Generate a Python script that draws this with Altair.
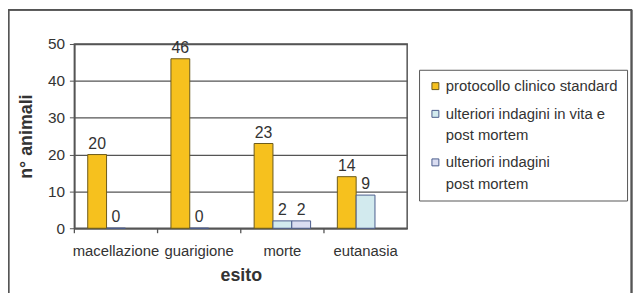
import altair as alt
import pandas as pd

categories = ["macellazione", "guarigione", "morte", "eutanasia"]
series = ["protocollo clinico standard",
          "ulteriori indagini in vita e post mortem",
          "ulteriori indagini post mortem"]
protocollo = [20, 46, 23, 14]
vita_post = [0, 0, 2, 9]
post_mortem = [None, None, 2, None]
y_ticks = [0, 10, 20, 30, 40, 50]

fills = ["#F6C11E", "#D2EAEE", "#DADDF1"]
strokes = ["#6B5A1A", "#4A5C8C", "#4A5C8C"]

rows = []
for s, vals in zip(series, [protocollo, vita_post, post_mortem]):
    for c, v in zip(categories, vals):
        if v is not None:
            rows.append({"esito": c, "serie": s, "n": v})
df = pd.DataFrame(rows)
cat_df = pd.DataFrame({"esito": categories})

W, H = 336, 186
FONT = "Liberation Sans"
GRID = "#555555"
TXT = "#333333"
LDY = -7  # shift of guide labels (legend first line aligned with symbol)

x_enc = alt.X("esito:N", sort=categories,
              scale=alt.Scale(paddingInner=0, paddingOuter=0),
              axis=alt.Axis(title="esito", labelAngle=0, ticks=False,
                            labelPadding=16 - LDY, titlePadding=8,
                            labelFontSize=15, titleFontSize=18,
                            labelColor=TXT, titleColor=TXT,
                            domainColor=GRID, domainWidth=1.5))
xo_enc = alt.XOffset("serie:N", sort=series,
                     scale=alt.Scale(domain=series, paddingInner=0, paddingOuter=0.71))
y_enc = alt.Y("n:Q", scale=alt.Scale(domain=[0, 50], nice=False),
              axis=alt.Axis(values=y_ticks, title="n° animali", grid=True,
                            labelOverlap=False, labelFlush=False,
                            labelOffset=-LDY,
                            gridColor=GRID, gridWidth=1.3, tickColor=GRID,
                            tickSize=5, labelPadding=5, titlePadding=12,
                            labelFontSize=15.5, titleFontSize=18,
                            labelColor=TXT, titleColor=TXT,
                            domainColor=GRID, domainWidth=1.5))

legend = alt.Legend(
    title=None, orient="none", legendX=348, legendY=26,
    symbolType="square", symbolSize=49, symbolStrokeColor="#333333",
    symbolStrokeWidth=1, labelFontSize=15, labelColor=TXT,
    labelOffset=3, rowPadding=12, padding=9,
    strokeColor=GRID, fillColor="white", labelLimit=300,
    labelBaseline="top",
    labelExpr=("datum.value == 'ulteriori indagini in vita e post mortem' ? "
               "['ulteriori indagini in vita e', '\u00a0\u00a0post mortem'] : "
               "datum.value == 'ulteriori indagini post mortem' ? "
               "['ulteriori indagini', '\u00a0\u00a0post mortem'] : datum.label"))

bars = alt.Chart(df).mark_bar(strokeWidth=1).encode(
    x=x_enc, xOffset=xo_enc, y=y_enc,
    fill=alt.Fill("serie:N", sort=series,
                  scale=alt.Scale(domain=series, range=fills), legend=legend),
    stroke=alt.Stroke("serie:N", scale=alt.Scale(domain=series, range=strokes),
                      legend=None),
)

labels = alt.Chart(df).mark_text(baseline="bottom", dy=-3, fontSize=16,
                                 font=FONT, color=TXT).encode(
    x=x_enc, xOffset=xo_enc, y=y_enc, text="n:Q")

cat_ticks = alt.Chart(cat_df).mark_rule(color=GRID, strokeWidth=1.3).encode(
    x=alt.X("esito:N", sort=categories, bandPosition=0),
    y=alt.value(H), y2=alt.value(H + 5))

frame_left = alt.Chart(cat_df).mark_rule(color="#555555", strokeWidth=1.5).encode(
    x=alt.value(-66.5), y=alt.value(-34.5), y2=alt.value(300))
frame_top = alt.Chart(cat_df).mark_rule(color="#555555", strokeWidth=1.5).encode(
    x=alt.value(-66.5), x2=alt.value(562.5), y=alt.value(-34.5))
frame_right = alt.Chart(cat_df).mark_rule(color="#555555", strokeWidth=1.5).encode(
    x=alt.value(562.5), y=alt.value(-34.5), y2=alt.value(300))

chart = alt.layer(bars, labels, cat_ticks, frame_left, frame_top, frame_right).properties(
    width=W, height=H,
    padding={"left": 67, "top": 35, "right": 228, "bottom": 64},
    autosize=alt.AutoSizeParams(type="none"),
).configure(font=FONT, style={"guide-label": {"lineHeight": 21.5, "dy": LDY}}
).configure_view(stroke=GRID, strokeWidth=1.5)

chart.save("out.html", embed_options={"renderer": "svg", "actions": False})
